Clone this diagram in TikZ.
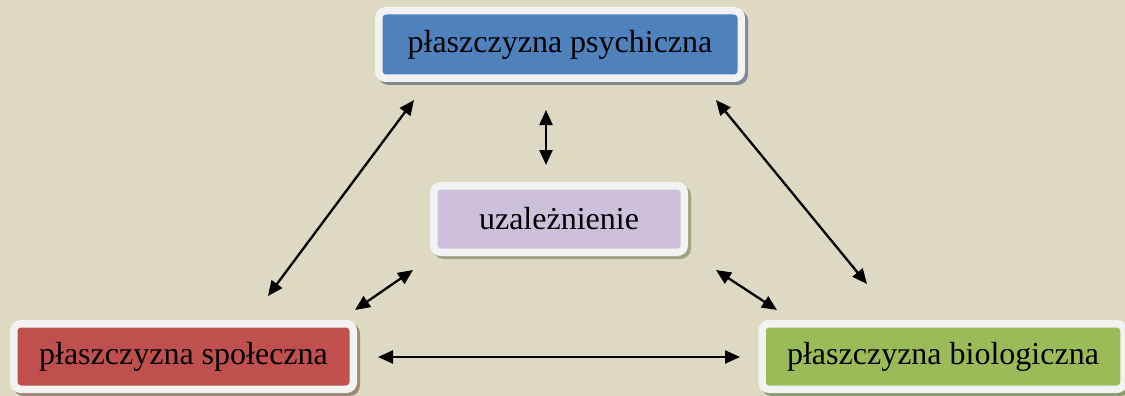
\documentclass[tikz,border=0pt]{standalone}
\usepackage{fontspec}
\setmainfont{Liberation Serif}
\usetikzlibrary{arrows.meta,shadows}
\definecolor{bgcol}{HTML}{DDD9C3}
\definecolor{rimcol}{HTML}{F2F2F2}
\definecolor{bluecol}{HTML}{4F81BD}
\definecolor{redcol}{HTML}{C0504D}
\definecolor{greencol}{HTML}{9BBB59}
\definecolor{lilaccol}{HTML}{CCC0DA}
\definecolor{shblue}{HTML}{7F8A96}
\definecolor{shred}{HTML}{A08878}
\definecolor{shgreen}{HTML}{8E9870}
\definecolor{shlilac}{HTML}{A0A47E}
\tikzset{
  plane/.style n args={3}{draw=rimcol, line width=7.5pt, fill=#1,
    rounded corners=7pt, minimum width=#2, minimum height=#3,
    inner sep=0pt, text=black, font=\fontsize{32}{38}\selectfont},
  shade/.style={drop shadow={shadow xshift=3pt, shadow yshift=-3pt,
    fill=#1, draw=#1, line width=7.5pt, opacity=1}},
  link/.style={line width=2.3pt, {Triangle[length=15pt,width=13pt]}-{Triangle[length=15pt,width=13pt]}}
}
\begin{document}
\begin{tikzpicture}[x=1pt,y=-1pt]
\useasboundingbox (0,0) rectangle (1125,396);
\fill[bgcol] (0,0) rectangle (1125,396);
\node[plane={bluecol}{362.5pt}{67.5pt}, shade=shblue] (psy) at (560,44.5) {płaszczyzna psychiczna};
\node[plane={lilaccol}{250.5pt}{66.5pt}, shade=shlilac] (uz) at (559,219) {uzależnienie};
\node[plane={redcol}{339.5pt}{65.5pt}, shade=shred] (spo) at (183.5,356.5) {płaszczyzna społeczna};
\node[plane={greencol}{362pt}{65.5pt}, shade=shgreen] (bio) at (943,356.5) {płaszczyzna biologiczna};
\coordinate (v1) at (546,110);
\coordinate (v2) at (546,165);
\coordinate (l1) at (414,100);
\coordinate (l2) at (268,296);
\coordinate (r1) at (716,100);
\coordinate (r2) at (867,284);
\coordinate (cl1) at (413,270);
\coordinate (cl2) at (355,310);
\coordinate (cr1) at (716,270);
\coordinate (cr2) at (777,310);
\coordinate (h1) at (378,357);
\coordinate (h2) at (740,357);
\draw[link] (v1) -- (v2);
\draw[link] (l1) -- (l2);
\draw[link] (r1) -- (r2);
\draw[link] (cl1) -- (cl2);
\draw[link] (cr1) -- (cr2);
\draw[link] (h1) -- (h2);
\end{tikzpicture}
\end{document}
